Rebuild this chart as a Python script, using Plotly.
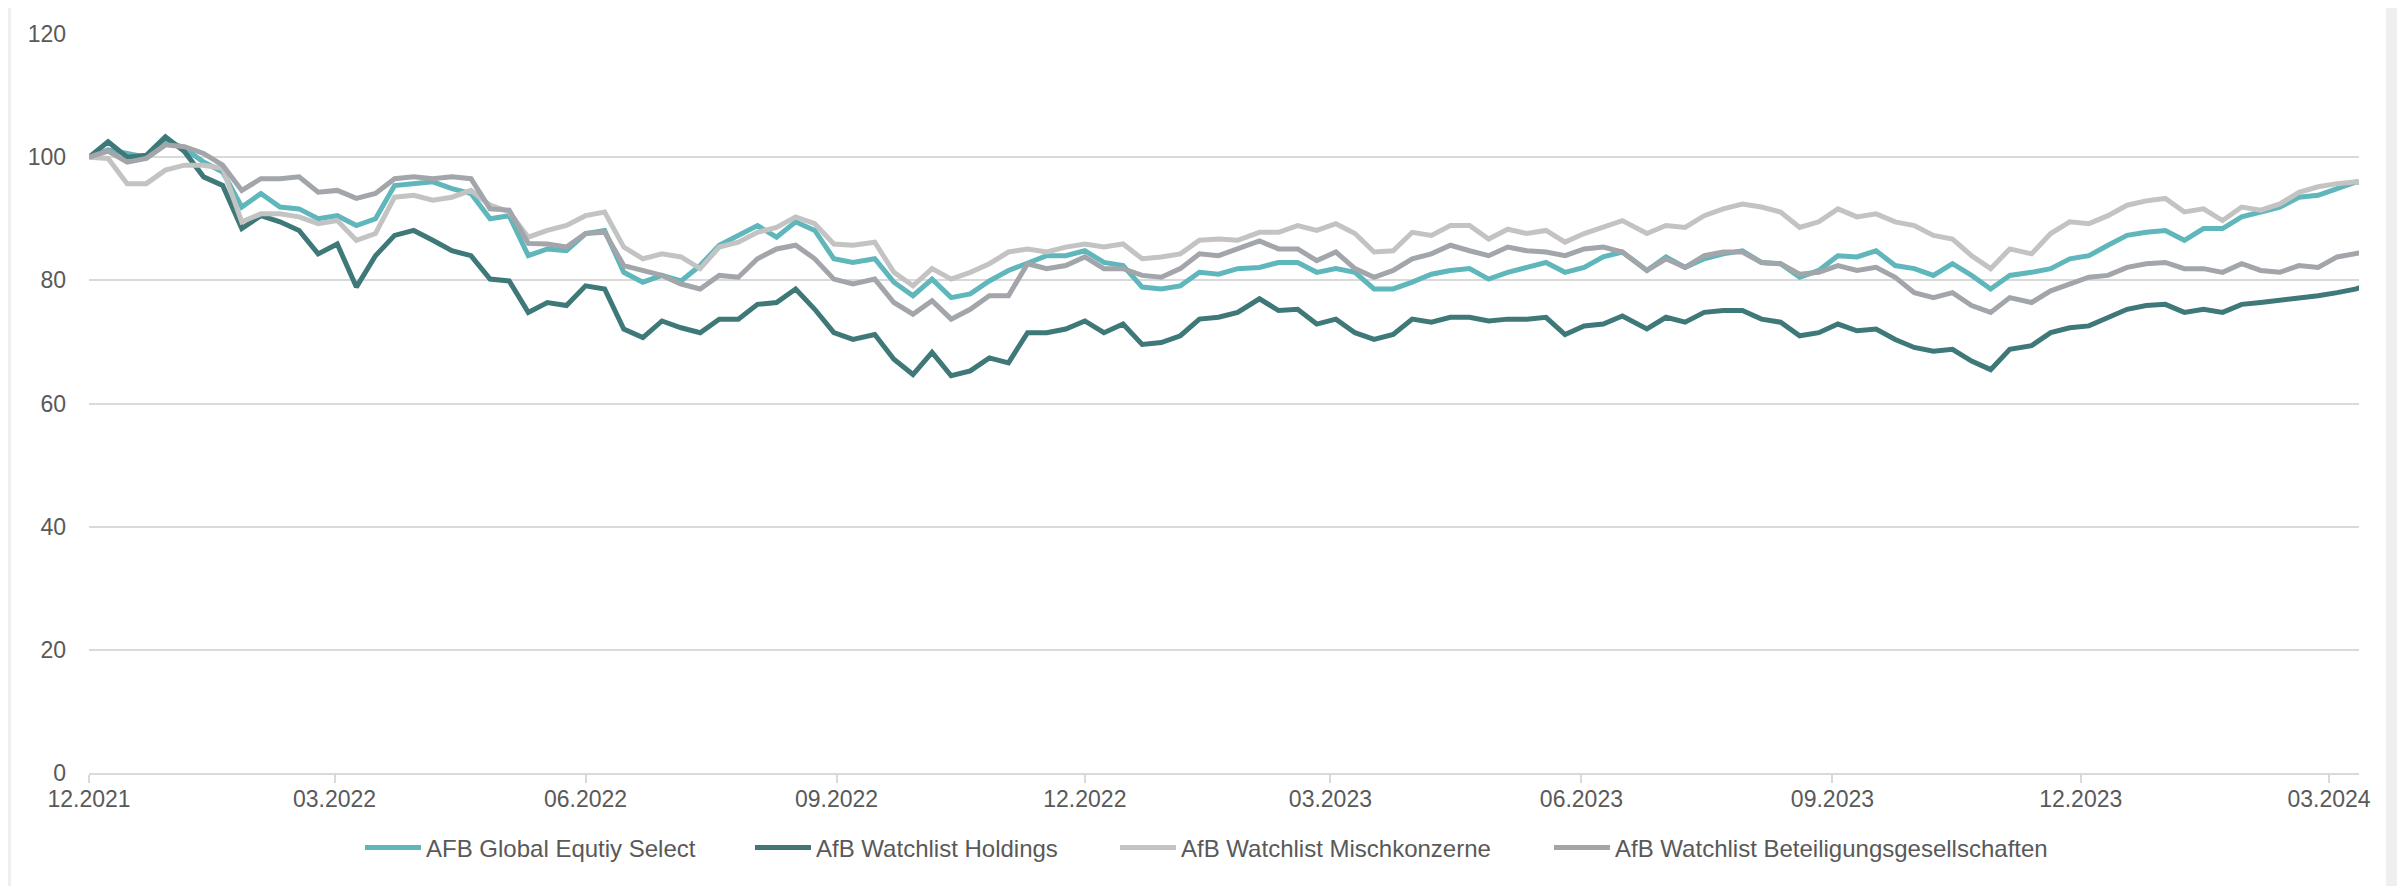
import pandas as pd
import plotly.graph_objects as go

# ---- data ----
start_date = "2021-12-01"
day_offsets = (
    list(range(0, 141, 7)) + list(range(147, 281, 7)) + list(range(288, 422, 7))
    + list(range(429, 563, 7)) + list(range(571, 705, 7)) + list(range(712, 832, 7)) + [834]
)

afb_global = [
    100, 101.2, 100.6, 100, 102.8, 101.4, 99.2, 97.6, 91.9, 94.1, 91.9, 91.6, 90, 90.5, 88.9, 90, 95.4, 95.7, 96, 94.9, 94.1,
    90, 90.5, 84, 85.1, 84.8, 87.6, 88.1, 81.3, 79.7, 80.8, 79.9, 82.4, 85.7, 87.3, 88.9, 87, 89.5, 88.1, 83.5, 82.9,
    83.5, 79.7, 77.5, 80.2, 77.2, 77.8, 79.9, 81.6, 82.9, 84, 84, 84.8, 82.9, 82.4, 78.9, 78.6, 79.1, 81.3, 81, 81.9,
    82.1, 82.9, 82.9, 81.3, 81.9, 81.3, 78.6, 78.6, 79.7, 81, 81.6, 81.9, 80.2, 81.3, 82.1, 82.9, 81.3, 82.1, 83.8, 84.6,
    81.6, 83.8, 82.1, 83.5, 84.3, 84.8, 82.9, 82.7, 80.5, 81.6, 84, 83.8, 84.8, 82.4, 81.9, 80.8, 82.7, 80.8, 78.6, 80.8,
    81.3, 81.9, 83.5, 84, 85.7, 87.3, 87.8, 88.1, 86.5, 88.4, 88.4, 90.3, 91.1, 91.9, 93.5, 93.8, 94.9, 96, 95.7,
]
holdings = [
    100, 102.5, 100, 100.3, 103.3, 100.9, 96.8, 95.4, 88.4, 90.5, 89.5, 88.1, 84.3, 85.9, 78.9, 84, 87.3, 88.1, 86.5, 84.8, 84,
    80.2, 79.9, 74.8, 76.4, 75.9, 79.1, 78.6, 72.1, 70.7, 73.4, 72.3, 71.5, 73.7, 73.7, 76.1, 76.4, 78.6, 75.3, 71.5, 70.4,
    71.2, 67.2, 64.7, 68.3, 64.5, 65.3, 67.4, 66.6, 71.5, 71.5, 72.1, 73.4, 71.5, 72.9, 69.6, 69.9, 71, 73.7, 74, 74.8,
    77, 75.1, 75.3, 72.9, 73.7, 71.5, 70.4, 71.2, 73.7, 73.2, 74, 74, 73.4, 73.7, 73.7, 74, 71.2, 72.6, 72.9, 74.2,
    72.1, 74, 73.2, 74.8, 75.1, 75.1, 73.7, 73.2, 71, 71.5, 72.9, 71.8, 72.1, 70.4, 69.1, 68.5, 68.8, 66.9, 65.5, 68.8,
    69.4, 71.5, 72.3, 72.6, 74, 75.3, 75.9, 76.1, 74.8, 75.3, 74.8, 76.1, 76.4, 76.7, 77.2, 77.5, 78, 78.6, 79.1,
]
mischkonzerne = [
    100, 99.8, 95.7, 95.7, 97.9, 98.7, 98.7, 98.2, 89.5, 90.8, 90.8, 90.3, 89.2, 89.7, 86.5, 87.6, 93.5, 93.8, 93, 93.5, 94.6,
    92.2, 91.1, 87, 88.1, 88.9, 90.5, 91.1, 85.4, 83.5, 84.3, 83.8, 81.9, 85.4, 86.2, 87.8, 88.6, 90.3, 89.2, 85.9, 85.7,
    86.2, 81.3, 79.1, 81.9, 80.2, 81.3, 82.7, 84.6, 85.1, 84.6, 85.4, 85.9, 85.4, 85.9, 83.5, 83.8, 84.3, 86.5, 86.7, 86.5,
    87.8, 87.8, 88.9, 88.1, 89.2, 87.6, 84.6, 84.8, 87.8, 87.3, 88.9, 88.9, 86.7, 88.3, 87.6, 88.1, 86.2, 87.6, 88.6, 89.7,
    87.6, 88.9, 88.6, 90.5, 91.6, 92.4, 91.9, 91.1, 88.6, 89.5, 91.6, 90.3, 90.8, 89.5, 88.9, 87.3, 86.7, 84, 81.9, 85.1,
    84.3, 87.6, 89.5, 89.2, 90.5, 92.2, 92.9, 93.3, 91.1, 91.6, 89.7, 91.9, 91.4, 92.4, 94.3, 95.2, 95.7, 96, 95.7,
]
beteiligung = [
    100, 101, 99.2, 99.8, 102, 101.7, 100.6, 98.7, 94.6, 96.5, 96.5, 96.8, 94.3, 94.6, 93.3, 94.1, 96.5, 96.8, 96.5, 96.8, 96.5,
    91.6, 91.4, 86, 85.9, 85.4, 87.6, 87.8, 82.4, 81.6, 80.8, 79.4, 78.6, 80.8, 80.5, 83.5, 85.1, 85.7, 83.5, 80.2, 79.4,
    80.2, 76.4, 74.5, 76.7, 73.7, 75.3, 77.5, 77.5, 82.7, 81.9, 82.4, 83.8, 81.9, 81.9, 80.8, 80.5, 81.9, 84.3, 84, 85.1,
    86.4, 85.1, 85.1, 83.2, 84.6, 81.9, 80.5, 81.6, 83.5, 84.3, 85.7, 84.8, 84, 85.4, 84.8, 84.6, 84, 85.1, 85.4, 84.6,
    81.6, 83.5, 82.1, 84, 84.6, 84.6, 82.9, 82.7, 81, 81.3, 82.4, 81.6, 82.1, 80.5, 78, 77.2, 78, 75.9, 74.8, 77.2,
    76.4, 78.3, 79.4, 80.5, 80.8, 82.1, 82.7, 82.9, 81.9, 81.9, 81.3, 82.7, 81.6, 81.3, 82.4, 82.1, 83.8, 84.3, 84.6,
]

series_names = [
    "AFB Global Equtiy Select",
    "AfB Watchlist Holdings",
    "AfB Watchlist Mischkonzerne",
    "AfB Watchlist Beteiligungsgesellschaften",
]
series_values = [afb_global, holdings, mischkonzerne, beteiligung]
series_colors = ["#5FB7BC", "#3E7878", "#C3C3C3", "#A2A5A9"]

tick_dates = ["2021-12-01", "2022-03-01", "2022-06-01", "2022-09-01", "2022-12-01",
              "2023-03-01", "2023-06-01", "2023-09-01", "2023-12-01", "2024-03-01"]
tick_labels = ["12.2021", "03.2022", "06.2022", "09.2022", "12.2022",
               "03.2023", "06.2023", "09.2023", "12.2023", "03.2024"]
y_ticks = [0, 20, 40, 60, 80, 100, 120]

dates = pd.Timestamp(start_date) + pd.to_timedelta(day_offsets, unit="D")

# ---- figure (page body adds an 8px offset, so the figure is 8px smaller) ----
W, H = 2397, 878
ML, MR, MT, MB = 81, 46, 26, 113
PW, PH = W - ML - MR, H - MT - MB

def px_x(p):
    return (p - ML) / PW

def px_y(p):
    return (H - MB - p) / PH

legend_names = ["legend", "legend2", "legend3", "legend4"]
legend_starts = [352, 742, 1107, 1541]   # left edge of each legend entry (figure px)

fig = go.Figure()
for name, vals, col, lg in zip(series_names, series_values, series_colors, legend_names):
    fig.add_trace(go.Scatter(x=dates, y=vals, name=name, mode="lines", legend=lg,
                             line=dict(color=col, width=5)))

shade = "#efefef"
shapes = [
    dict(type="rect", xref="paper", yref="paper", x0=px_x(0), x1=px_x(3), y0=px_y(H), y1=px_y(0),
         fillcolor=shade, line_width=0, layer="below"),
    dict(type="rect", xref="paper", yref="paper", x0=px_x(2378), x1=px_x(W), y0=px_y(H), y1=px_y(0),
         fillcolor=shade, line_width=0, layer="below"),
]

font_axis = dict(family="Liberation Sans, Arial, sans-serif", size=23, color="#595959")
font_leg = dict(family="Liberation Sans, Arial, sans-serif", size=24, color="#595959")

leg_y = -(848 - 8 - (H - MB)) / PH
legends = {}
for lg, xs in zip(legend_names, legend_starts):
    legends[lg] = dict(orientation="h", x=px_x(xs), xanchor="left", y=leg_y, yanchor="middle",
                       font=font_leg, itemwidth=56, bgcolor="rgba(0,0,0,0)", borderwidth=0)

fig.update_layout(
    width=W, height=H,
    margin=dict(l=ML, r=MR, t=MT, b=MB, autoexpand=False),
    paper_bgcolor="white", plot_bgcolor="white",
    font=font_axis,
    shapes=shapes,
    showlegend=True,
    **legends,
    xaxis=dict(type="date", range=["2021-12-01", "2024-03-12"], automargin=False,
               tickmode="array", tickvals=tick_dates, ticktext=tick_labels,
               showgrid=False, showline=True, linecolor="#D9D9D9", linewidth=2,
               ticks="outside", ticklen=8, tickwidth=2, tickcolor="#D9D9D9",
               ticklabelstandoff=-4, tickfont=font_axis, zeroline=False),
    yaxis=dict(range=[0, 120], tickmode="array", tickvals=y_ticks, automargin=False,
               showgrid=True, gridcolor="#D9D9D9", gridwidth=2,
               zeroline=False, showline=False, ticks="",
               ticklabelstandoff=22, tickfont=font_axis),
)

fig.write_html("out.html")
